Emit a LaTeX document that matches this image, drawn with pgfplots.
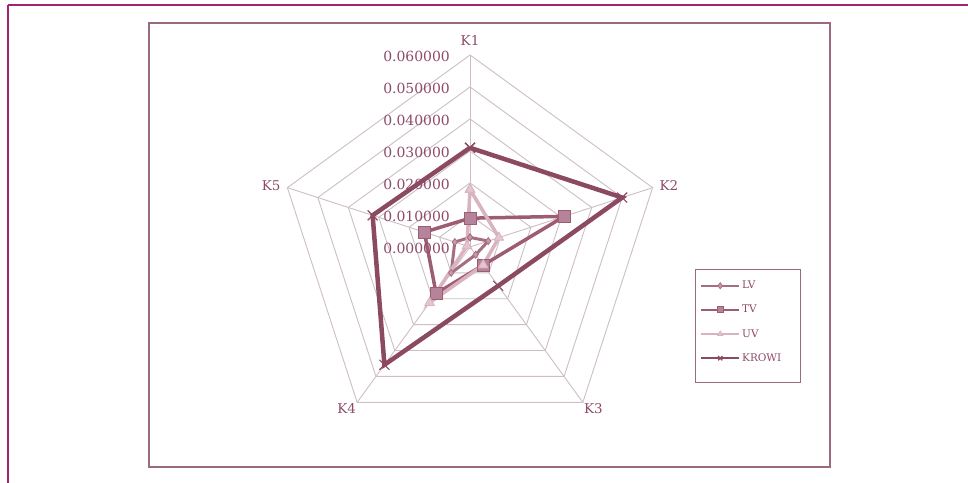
\documentclass[border=0pt]{standalone}
\usepackage{fontspec}
\setmainfont{DejaVu Serif}
\usepackage{pgfplots}
\pgfplotsset{compat=1.18}
\usepgfplotslibrary{polar}
\definecolor{magline}{HTML}{A3246E}
\definecolor{boxcol}{HTML}{9A6A80}
\definecolor{gridcol}{HTML}{CDBFC4}
\definecolor{textcol}{HTML}{8E4A68}
\definecolor{krowi}{HTML}{8C4A62}
\definecolor{tvcol}{HTML}{9E5C73}
\definecolor{tvfill}{HTML}{B5849A}
\definecolor{lvcol}{HTML}{A66E82}
\definecolor{lvfill}{HTML}{C89AAA}
\definecolor{uvcol}{HTML}{D9B3C0}
\definecolor{uvfill}{HTML}{E3C6D0}
\begin{document}
\begin{tikzpicture}[x=1bp,y=1bp]
\useasboundingbox (0,0) rectangle (968,483);
\fill[white] (0,0) rectangle (968,483);
\draw[magline, line width=2.2bp] (8,478) -- (968,478);
\draw[magline, line width=2.2bp] (8,478) -- (8,0);
\draw[boxcol, line width=1.6bp] (149,460) rectangle (830,16);
\draw[boxcol, line width=1bp] (695,213) rectangle (800,100);
\begin{polaraxis}[
  at={(470bp,236bp)}, anchor=center,
  scale only axis, width=384bp, height=384bp,
  ymin=0, ymax=0.06, hide axis, clip=false,
  legend style={at={(axis description cs:1.099,0.414)}, anchor=north west,
    draw=none, fill=none,
    font=\fontsize{10.5}{12}\selectfont, text=textcol,
    inner xsep=0bp, inner ysep=0bp, row sep=13bp,
    nodes={inner xsep=2bp, inner ysep=1bp}},
  legend cell align=left,
  legend image code/.code={\draw[mark repeat=2,mark phase=2,#1] plot coordinates {(0bp,0bp) (19bp,0bp) (38bp,0bp)};},
  legend image post style={line width=2bp, mark size=3bp},
]
% grid
\foreach \r in {0.01,0.02,0.03,0.04,0.05,0.06}{
  \edef\tmp{\noexpand\addplot[gridcol, line width=0.9bp, forget plot] coordinates {(90,\r) (18,\r) (-54,\r) (-126,\r) (162,\r) (90,\r)};}
  \tmp
}
\addplot[gridcol, line width=0.9bp, forget plot] coordinates {(90,0) (90,0.06)};
\addplot[gridcol, line width=0.9bp, forget plot] coordinates {(18,0) (18,0.06)};
\addplot[gridcol, line width=0.9bp, forget plot] coordinates {(-54,0) (-54,0.06)};
\addplot[gridcol, line width=0.9bp, forget plot] coordinates {(-126,0) (-126,0.06)};
\addplot[gridcol, line width=0.9bp, forget plot] coordinates {(162,0) (162,0.06)};
% series
\addplot[lvcol, line width=3bp, mark=diamond*, mark size=3.5bp, mark options={solid, fill=lvfill, draw=lvcol, line width=0.8bp}]
  coordinates {(90,0.003) (18,0.006) (-54,0.003) (-126,0.010) (162,0.005) (90,0.003)};
\addlegendentry{LV}
\addplot[tvcol, line width=3.5bp, mark=square*, mark size=6bp, mark options={solid, fill=tvfill, draw=tvcol, line width=0.8bp}]
  coordinates {(90,0.009) (18,0.031) (-54,0.007) (-126,0.018) (162,0.015) (90,0.009)};
\addlegendentry{TV}
\addplot[uvcol, line width=3.5bp, mark=triangle*, mark size=5.5bp, mark options={solid, fill=uvfill, draw=uvcol, line width=0.8bp}]
  coordinates {(90,0.018) (18,0.0095) (-54,0.007) (-126,0.0215) (162,0.001) (90,0.018)};
\addlegendentry{UV}
\addplot[krowi, line width=4.5bp, mark=x, mark size=7bp, mark options={solid, draw=krowi, line width=1.2bp}]
  coordinates {(90,0.031) (18,0.050) (-54,0.015) (-126,0.0455) (162,0.032) (90,0.031)};
\addlegendentry{KROWI}
% radial labels
\foreach \v/\t in {0/0.000000,0.01/0.010000,0.02/0.020000,0.03/0.030000,0.04/0.040000,0.05/0.050000,0.06/0.060000}{
  \edef\tmp{\noexpand\node[anchor=east, text=textcol, font=\noexpand\fontsize{14}{16}\noexpand\selectfont, inner sep=0pt, xshift=-20bp, yshift=-1.5bp] at (axis cs:90,\v) {\t};}
  \tmp
}
% category labels
\node[text=textcol, font=\fontsize{13.5}{15}\selectfont, anchor=south, inner sep=0pt] at (axis cs:90,0.063) {K1};
\node[text=textcol, font=\fontsize{13.5}{15}\selectfont, anchor=west, inner sep=0pt] at (axis cs:18,0.0622) {K2};
\node[text=textcol, font=\fontsize{13.5}{15}\selectfont, anchor=north west, inner sep=0pt] at (axis cs:-54,0.0605) {K3};
\node[text=textcol, font=\fontsize{13.5}{15}\selectfont, anchor=north east, inner sep=0pt] at (axis cs:-126,0.0605) {K4};
\node[text=textcol, font=\fontsize{13.5}{15}\selectfont, anchor=east, inner sep=0pt] at (axis cs:162,0.0622) {K5};
\end{polaraxis}
\end{tikzpicture}
\end{document}
